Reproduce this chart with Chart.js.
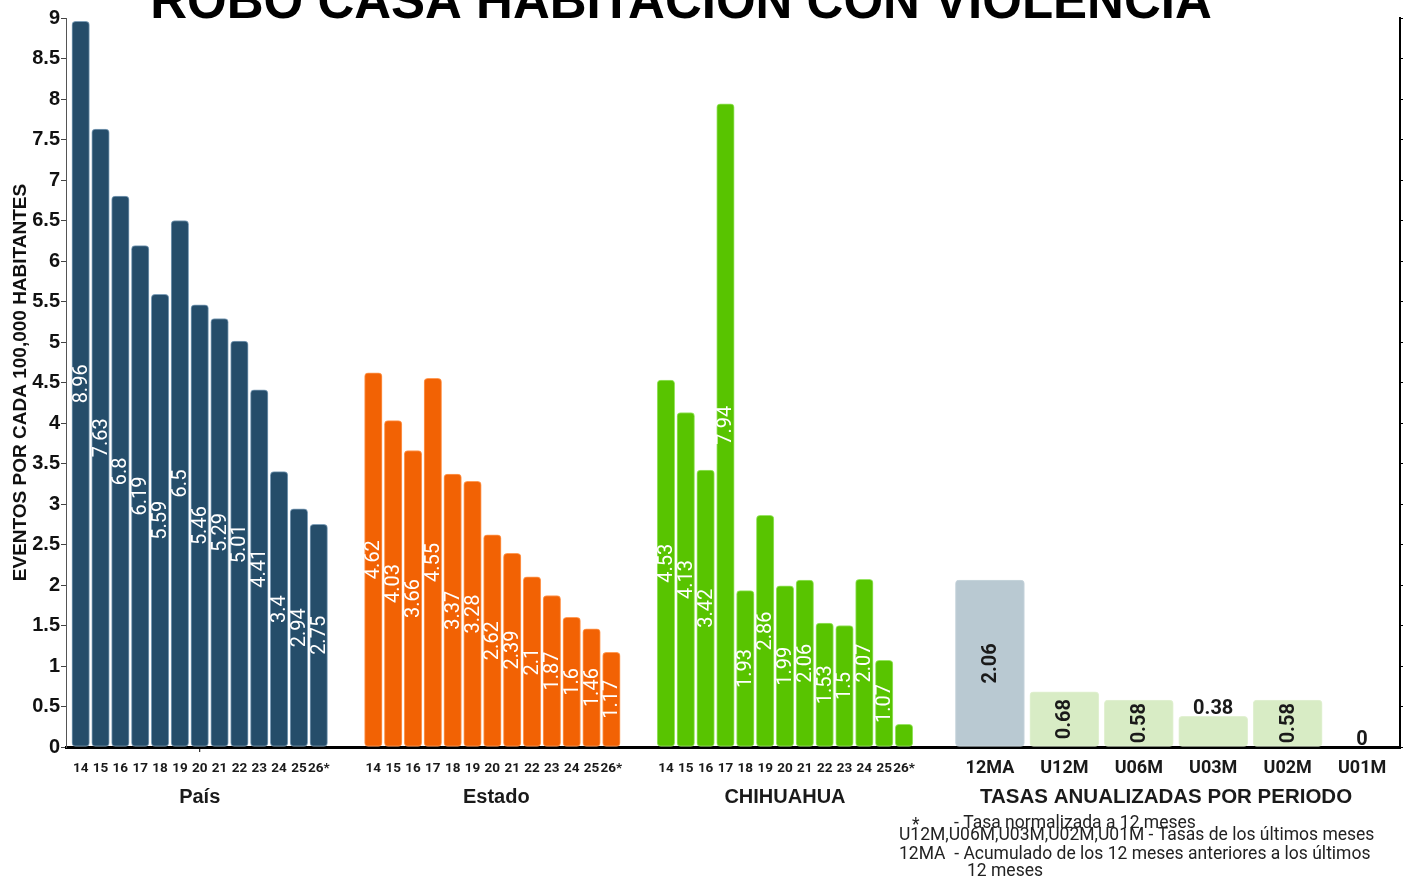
<!DOCTYPE html>
<html>
<head>
<meta charset="utf-8">
<script src="https://cdn.jsdelivr.net/npm/chart.js@4/dist/chart.umd.min.js"></script>
<style>
html,body{margin:0;padding:0;background:#fff;}
#wrap{position:relative;width:1403px;height:879px;}
</style>
</head>
<body>
<div id="wrap"><canvas id="mainChart"></canvas></div>
<script>
// values
let yearLabels = ["14","15","16","17","18","19","20","21","22","23","24","25","26*"];
let paisValues = [8.96,7.63,6.8,6.19,5.59,6.5,5.46,5.29,5.01,4.41,3.4,2.94,2.75];
let estadoValues = [4.62,4.03,3.66,4.55,3.37,3.28,2.62,2.39,2.1,1.87,1.6,1.46,1.17];
let chihuahuaValues = [4.53,4.13,3.42,7.94,1.93,2.86,1.99,2.06,1.53,1.5,2.07,1.07,0.28];
let periodLabels = ["12MA","U12M","U06M","U03M","U02M","U01M"];
let periodValues = [2.06,0.68,0.58,0.38,0.58,0];
let groupNames = ["País","Estado","CHIHUAHUA","TASAS ANUALIZADAS POR PERIODO"];
let yTicks = [0,0.5,1,1.5,2,2.5,3,3.5,4,4.5,5,5.5,6,6.5,7,7.5,8,8.5,9];
let notes = [
  "- Tasa normalizada a 12 meses",
  "U12M,U06M,U03M,U02M,U01M - Tasas de los últimos meses",
  "12MA  - Acumulado de los 12 meses anteriores a los últimos",
  "12 meses"
];

// slot layout on the x axis (one unit = one year bar)
let groupStart = [0, 14.75, 29.5];
let periodStart = 45.83;
let periodStep = 3.752;

function yearPoints(vals, g){
  return vals.map((v,i) => ({x: groupStart[g] + i, y: v}));
}
let periodPoints = periodValues.map((v,i) => ({x: periodStart + i*periodStep, y: v}));

let tickPos = [], tickText = [];
for(let g=0; g<3; g++){
  yearLabels.forEach((l,i) => { tickPos.push(groupStart[g]+i); tickText.push(l); });
}
periodLabels.forEach((l,i) => { tickPos.push(periodStart+i*periodStep); tickText.push(l); });

let groupCenters = [groupStart[0]+6, groupStart[1]+6.2, groupStart[2]+6, periodStart+2.5*periodStep - 0.5];

let labelPlugin = {
  id: "labels",
  afterDatasetsDraw(chart){
    let ctx = chart.ctx;
    chart.data.datasets.forEach((ds, di) => {
      let meta = chart.getDatasetMeta(di);
      let isPeriod = di === 3;
      meta.data.forEach((bar, i) => {
        let v = ds.data[i].y;
        let txt = String(v);
        ctx.save();
        ctx.font = isPeriod ? "bold 20px Roboto" : "20px Roboto";
        ctx.fillStyle = isPeriod ? "#1a1a1a" : "#ffffff";
        let w = ctx.measureText(txt).width;
        let h = bar.base - bar.y;
        if(w + 4 <= h){
          ctx.translate(bar.x, (bar.y + bar.base)/2);
          ctx.rotate(-Math.PI/2);
          ctx.textAlign = "center";
          ctx.textBaseline = "middle";
          ctx.fillText(txt, 0, 1);
        } else if(isPeriod){
          ctx.textAlign = "center";
          ctx.textBaseline = "alphabetic";
          ctx.fillText(txt, bar.x, bar.y - 2);
        }
        ctx.restore();
      });
    });
  },
  afterDraw(chart){
    let ctx = chart.ctx;
    let xs = chart.scales.x;
    ctx.save();
    // title
    ctx.fillStyle = "#000";
    ctx.font = "bold 51px 'Liberation Sans'";
    ctx.textAlign = "center";
    ctx.textBaseline = "alphabetic";
    ctx.fillText("ROBO CASA HABITACION CON VIOLENCIA", 681, 18);
    // group names
    ctx.textBaseline = "middle";
    groupNames.forEach((n,g) => {
      ctx.font = g === 3 ? "bold 20.5px 'Liberation Sans'" : "bold 20px 'Liberation Sans'";
      ctx.fillStyle = "#1a1a1a";
      ctx.fillText(n, xs.getPixelForValue(groupCenters[g]), 797);
    });
    // small tick under axis
    let tx = xs.getPixelForValue(groupCenters[0]);
    ctx.strokeStyle = "#000";
    ctx.lineWidth = 1;
    ctx.beginPath();
    ctx.moveTo(tx, chart.chartArea.bottom);
    ctx.lineTo(tx, chart.chartArea.bottom + 5);
    ctx.stroke();
    // footnotes
    ctx.fillStyle = "#222";
    ctx.font = "17.5px Roboto";
    ctx.textAlign = "left";
    ctx.fillText("*", 912, 826);
    ctx.fillText(notes[0], 954, 824);
    ctx.fillText(notes[1], 899, 836);
    ctx.fillText(notes[2], 899, 855);
    ctx.fillText(notes[3], 967, 872);
    ctx.restore();
  }
};

let mainChart = new Chart(document.getElementById("mainChart"), {
  type: "bar",
  data: {
    datasets: [
      {label:"País", data: yearPoints(paisValues,0), backgroundColor:"#254d6a", borderColor:"#7f9fb8"},
      {label:"Estado", data: yearPoints(estadoValues,1), backgroundColor:"#f26204", borderColor:"#ff9a55"},
      {label:"CHIHUAHUA", data: yearPoints(chihuahuaValues,2), backgroundColor:"#58c400", borderColor:"#98e464"},
      {label:"Periodos", data: periodPoints, barThickness: 69,
       backgroundColor: periodLabels.map((l,i) => i === 0 ? "#b9c9d2" : "#d8ecc5"),
       borderColor: periodLabels.map((l,i) => i === 0 ? "#c9d6dd" : "#e2f1d3")}
    ]
  },
  options: {
    responsive: true,
    maintainAspectRatio: false,
    animation: false,
    barThickness: 17.5,
    borderWidth: 1,
    borderRadius: 4,
    borderSkipped: false,
    layout: {padding: {top: 18, left: 0, right: 0, bottom: 0}},
    plugins: {legend: {display: false}, tooltip: {enabled: false}},
    scales: {
      x: {
        type: "linear",
        stacked: true,
        offset: false,
        min: -0.74,
        max: 66.5,
        afterBuildTicks: axis => { axis.ticks = tickPos.map(v => ({value: v})); },
        afterFit: s => { s.height = 132; },
        grid: {display: false, drawTicks: false, offset: false},
        border: {display: true, color: "#000", width: 3},
        ticks: {
          autoSkip: false,
          maxRotation: 0,
          padding: 14,
          color: "#1a1a1a",
          callback: (v, i) => tickText[i],
          font: c => c.index >= 39 ? {family: "Roboto", weight: "bold", size: 18, lineHeight: 0.82}
                                     : {family: "Roboto", weight: "bold", size: 13.5, lineHeight: 1.2}
        }
      },
      y: {
        min: 0,
        max: 9,
        afterFit: s => { s.width = 66; },
        afterBuildTicks: axis => { axis.ticks = yTicks.map(v => ({value: v})); },
        grid: {drawOnChartArea: false, drawTicks: true, tickLength: 5, color: "#444"},
        border: {display: true, color: "#555", width: 1},
        ticks: {
          padding: 1,
          color: "#111",
          font: {family: "'Liberation Sans'", weight: "bold", size: 20},
          callback: v => String(v)
        },
        title: {
          display: true,
          text: "EVENTOS POR CADA 100,000 HABITANTES",
          color: "#111",
          font: {family: "'Liberation Sans'", weight: "bold", size: 19},
          padding: {top: 9, bottom: 0}
        }
      },
      y2: {
        position: "right",
        min: 0,
        max: 9,
        afterFit: s => { s.width = 3; },
        afterBuildTicks: axis => { axis.ticks = yTicks.map(v => ({value: v})); },
        grid: {drawOnChartArea: false, drawTicks: true, tickLength: 5, color: "#000"},
        border: {display: true, color: "#000", width: 2},
        ticks: {display: false}
      }
    }
  },
  plugins: [labelPlugin]
});
</script>
</body>
</html>
